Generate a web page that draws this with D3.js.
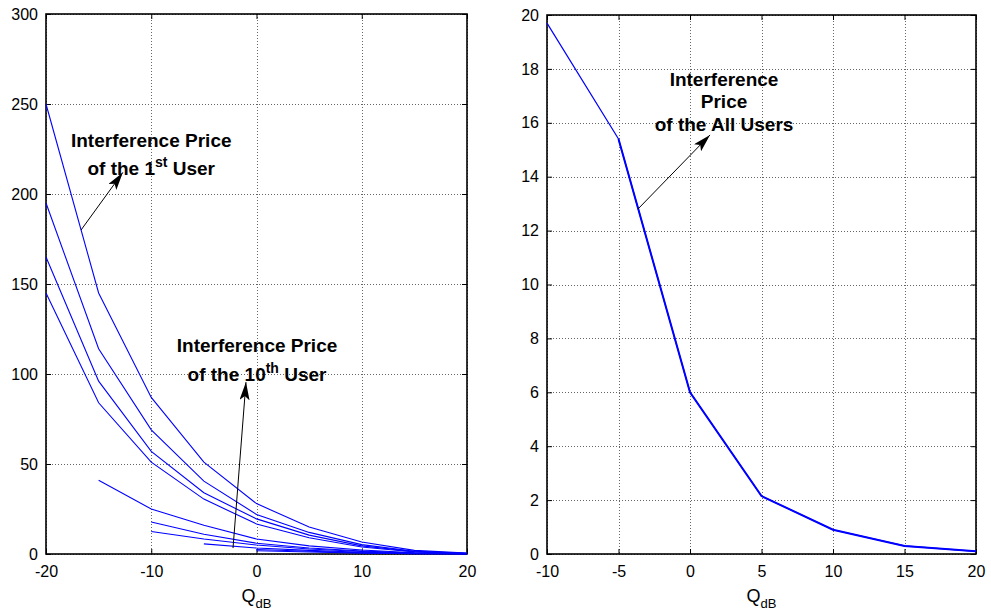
<!DOCTYPE html>
<html>
<head>
<meta charset="utf-8">
<script src="https://cdn.jsdelivr.net/npm/d3@7"></script>
<style>
  html, body { margin: 0; padding: 0; background: #fff; }
  svg { display: block; font-family: "Liberation Sans", Arial, sans-serif; }
</style>
</head>
<body>
<svg id="chart" width="991" height="614"></svg>
<script>
// Q in dB sampled every 5 dB
const qLeft = [-20, -15, -10, -5, 0, 5, 10, 15, 20];
// Interference price per user (users 1..10); later users start at larger Q
const user1  = [250, 145, 87, 51, 28, 15, 6.7, 2.0, 0.5];
const user2  = [195, 114, 69, 40.5, 22, 12, 5.2, 1.5, 0.4];
const user3  = [165, 96, 57, 34, 19.5, 10.5, 4.5, 1.3, 0.3];
const user4  = [145, 84, 51, 30.5, 16.7, 9, 3.9, 1.1, 0.3];
const user5  = [null, 41, 25, 16, 8.3, 4.5, 2.2, 0.7, 0.2];
const user6  = [null, null, 17.8, 11, 6, 3.3, 1.7, 0.5, 0.15];
const user7  = [null, null, 12.5, 8.3, 5, 2.8, 1.4, 0.4, 0.1];
const user8  = [null, null, null, 5.6, 3.3, 2.0, 1.0, 0.3, 0.1];
const user9  = [null, null, null, null, 2.5, 1.5, 0.7, 0.2, 0.1];
const user10 = [null, null, null, null, 1.8, 1.1, 0.5, 0.15, 0.05];
const userSeries = [user1, user2, user3, user4, user5, user6, user7, user8, user9, user10];

// Interference price of all users
const qRight = [-10, -5, 0, 5, 10, 15, 20];
const priceAll = [19.7, 15.4, 6.0, 2.15, 0.9, 0.3, 0.1];

// Axis ticks
const leftXTicks = [-20, -10, 0, 10, 20];
const leftYTicks = [0, 50, 100, 150, 200, 250, 300];
const rightXTicks = [-10, -5, 0, 5, 10, 15, 20];
const rightYTicks = [0, 2, 4, 6, 8, 10, 12, 14, 16, 18, 20];

const svg = d3.select("#chart");

function panel(xDomain, yDomain, xRange, yRange, xTicks, yTicks) {
  const x = d3.scaleLinear().domain(xDomain).range(xRange);
  const y = d3.scaleLinear().domain(yDomain).range(yRange);
  const g = svg.append("g");
  const [x0, x1] = xRange, [y0, y1] = yRange;

  // dotted grid
  const grid = g.append("g").attr("stroke", "#666").attr("stroke-width", 1)
    .attr("stroke-dasharray", "1,2").attr("shape-rendering", "crispEdges");
  xTicks.forEach(t => grid.append("line")
    .attr("x1", Math.round(x(t)) + 0.5).attr("x2", Math.round(x(t)) + 0.5)
    .attr("y1", y1).attr("y2", y0));
  yTicks.forEach(t => grid.append("line")
    .attr("y1", Math.round(y(t)) + 0.5).attr("y2", Math.round(y(t)) + 0.5)
    .attr("x1", x0).attr("x2", x1));

  // axes with inward ticks on all four sides; plain hyphen for negatives
  const fmt = d => String(d);
  const bottom = g.append("g").attr("transform", `translate(0,${y0})`)
    .call(d3.axisBottom(x).tickValues(xTicks).tickSizeInner(-5).tickSizeOuter(0).tickPadding(12).tickFormat(fmt));
  const top = g.append("g").attr("transform", `translate(0,${y1})`)
    .call(d3.axisTop(x).tickValues(xTicks).tickSizeInner(-5).tickSizeOuter(0).tickFormat(""));
  const left = g.append("g").attr("transform", `translate(${x0},0)`)
    .call(d3.axisLeft(y).tickValues(yTicks).tickSizeInner(-5).tickSizeOuter(0).tickPadding(8).tickFormat(fmt));
  const right = g.append("g").attr("transform", `translate(${x1},0)`)
    .call(d3.axisRight(y).tickValues(yTicks).tickSizeInner(-5).tickSizeOuter(0).tickFormat(""));
  [bottom, top, left, right].forEach(a => {
    a.select(".domain").remove();
    a.selectAll(".tick line").attr("stroke", "#000").attr("stroke-width", 1);
    a.selectAll("text").attr("font-size", 16).attr("fill", "#000")
      .attr("font-family", "'Liberation Sans', Arial, sans-serif");
  });
  bottom.selectAll("text").attr("dy", "0.71em");

  // box
  g.append("rect").attr("x", x0).attr("y", y1).attr("width", x1 - x0).attr("height", y0 - y1)
    .attr("fill", "none").attr("stroke", "#000").attr("stroke-width", 1.6);

  // x label: Q_dB
  const lab = g.append("text").attr("x", (x0 + x1) / 2).attr("y", 602)
    .attr("text-anchor", "middle").attr("font-size", 18).attr("fill", "#000");
  lab.append("tspan").text("Q");
  lab.append("tspan").attr("font-size", 13).attr("dy", 6).text("dB");
  return { x, y, g };
}

// ---------- left panel ----------
const L = panel([-20, 20], [0, 300], [46, 467], [554, 14], leftXTicks, leftYTicks);
const lineL = d3.line().defined(d => d[1] != null).x(d => L.x(d[0])).y(d => L.y(d[1]));
L.g.append("g").selectAll("path").data(userSeries).join("path")
  .attr("d", s => lineL(s.map((v, i) => [qLeft[i], v])))
  .attr("fill", "none").attr("stroke", "#0000ff").attr("stroke-width", 1.1);

// ---------- right panel ----------
const R = panel([-10, 20], [0, 20], [547, 976], [554, 15], rightXTicks, rightYTicks);
const lineR = d3.line().x(d => R.x(d[0])).y(d => R.y(d[1]));
const ptsR = priceAll.map((v, i) => [qRight[i], v]);
R.g.append("path").attr("d", lineR(ptsR))
  .attr("fill", "none").attr("stroke", "#0000ff").attr("stroke-width", 1.2);
// from -5 dB on, the curves of the individual users coincide, giving a heavier trace
R.g.append("path").attr("d", lineR(ptsR.slice(1)))
  .attr("fill", "none").attr("stroke", "#0000ff").attr("stroke-width", 2);

// ---------- annotations ----------
svg.append("defs").append("marker").attr("id", "head")
  .attr("viewBox", "0 0 18 10").attr("refX", 18).attr("refY", 5)
  .attr("markerWidth", 18).attr("markerHeight", 10).attr("markerUnits", "userSpaceOnUse")
  .attr("orient", "auto")
  .append("path").attr("d", "M0,0 L18,5 L0,10 L4,5 Z").attr("fill", "#000");

function arrow(P, from, to) {
  P.g.append("line")
    .attr("x1", P.x(from[0])).attr("y1", P.y(from[1]))
    .attr("x2", P.x(to[0])).attr("y2", P.y(to[1]))
    .attr("stroke", "#000").attr("stroke-width", 1).attr("marker-end", "url(#head)");
}
function label(P, xc, yb, parts) {
  const t = P.g.append("text").attr("x", P.x(xc)).attr("y", P.y(yb))
    .attr("text-anchor", "middle").attr("font-size", 19).attr("font-weight", "bold").attr("fill", "#000");
  parts.forEach(p => {
    const s = t.append("tspan").text(p.t);
    if (p.sup) s.attr("font-size", 14).attr("dy", -8);
    if (p.back) s.attr("dy", 8);
  });
}

// 1st user
label(L, -10, 226, [{ t: "Interference Price" }]);
label(L, -10, 210.5, [{ t: "of the 1" }, { t: "st", sup: true }, { t: " User", back: true }]);
arrow(L, [-16.67, 180], [-12.7, 212]);

// 10th user
label(L, 0.05, 112, [{ t: "Interference Price" }]);
label(L, 0.05, 96, [{ t: "of the 10" }, { t: "th", sup: true }, { t: " User", back: true }]);
arrow(L, [-2.23, 3.3], [-1.0, 95.5]);

// all users
label(R, 2.38, 17.37, [{ t: "Interference" }]);
label(R, 2.38, 16.55, [{ t: "Price" }]);
label(R, 2.38, 15.7, [{ t: "of the All Users" }]);
arrow(R, [-3.64, 12.8], [1.4, 15.55]);
</script>
</body>
</html>
